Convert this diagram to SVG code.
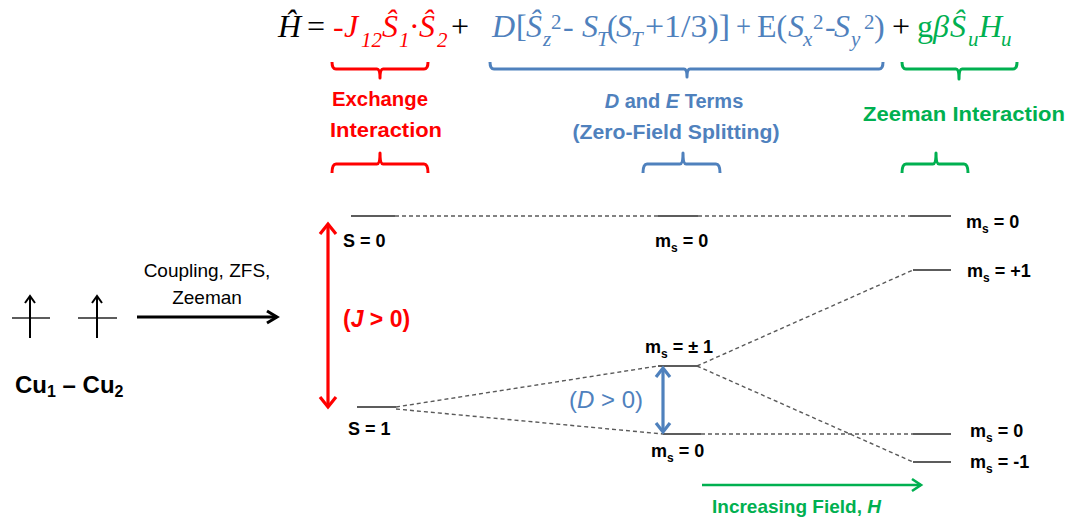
<svg xmlns="http://www.w3.org/2000/svg" width="1068" height="521" viewBox="0 0 1068 521">
<style>
.eq{font-family:"Liberation Serif","Times New Roman",serif;font-size:32px}
.it{font-style:italic}
.sub{font-size:21px}
.red{fill:#ff0000}
.blue{fill:#4f81bd}
.green{fill:#00b050}
.blk{fill:#000}
.lbl{font-family:"Liberation Sans",Arial,sans-serif;font-weight:bold;font-size:18px;fill:#000}
.head{font-family:"Liberation Sans",Arial,sans-serif;font-weight:bold;font-size:20px;text-anchor:middle}
.brace{fill:none;stroke-width:3;stroke-linejoin:round}
.lvl{stroke:#262626;stroke-width:1.6}
.dash{stroke:#595959;stroke-width:1.4;stroke-dasharray:4 3;fill:none}
</style>
<defs>
<marker id="hRed" markerUnits="userSpaceOnUse" markerWidth="24" markerHeight="24" viewBox="-14 -12 16 24" refX="0" refY="0" orient="auto-start-reverse"><path d="M-10,-8 L0,0 L-10,8" fill="none" stroke="#ff0000" stroke-width="3.2"/></marker>
<marker id="hBlue" markerUnits="userSpaceOnUse" markerWidth="24" markerHeight="24" viewBox="-14 -12 16 24" refX="0" refY="0" orient="auto-start-reverse"><path d="M-9,-7 L0,0 L-9,7" fill="none" stroke="#4f81bd" stroke-width="3.2"/></marker>
<marker id="hGreen" markerUnits="userSpaceOnUse" markerWidth="24" markerHeight="24" viewBox="-14 -12 16 24" refX="0" refY="0" orient="auto"><path d="M-9,-6 L0,0 L-9,6" fill="none" stroke="#00b050" stroke-width="2.6"/></marker>
<marker id="hBlack" markerUnits="userSpaceOnUse" markerWidth="24" markerHeight="24" viewBox="-14 -12 16 24" refX="0" refY="0" orient="auto"><path d="M-10,-6 L0,0 L-10,6" fill="none" stroke="#000" stroke-width="3"/></marker>
<marker id="hSpin" markerUnits="userSpaceOnUse" markerWidth="20" markerHeight="20" viewBox="-10 -10 12 20" refX="0" refY="0" orient="auto"><path d="M-7,-5 L0,0 L-7,5" fill="none" stroke="#000" stroke-width="2"/></marker>
</defs>

<g id="equation">
<text class="eq blk it" x="278" y="37">Ĥ</text>
<text class="eq blk" x="307" y="37">=</text>
<text class="eq red" x="333" y="37">-</text>
<text class="eq red it" x="344" y="37">J</text>
<text class="eq red it sub" x="361" y="47">12</text>
<text class="eq red it" x="382" y="37">Ŝ</text>
<text class="eq red it sub" x="399" y="47">1</text>
<text class="eq red" x="409" y="37">·</text>
<text class="eq red it" x="419" y="37">Ŝ</text>
<text class="eq red it sub" x="437" y="47">2</text>
<text class="eq blk" x="451" y="37">+</text>
<text class="eq blue it" x="492" y="37">D</text>
<text class="eq blue" x="516" y="37">[</text>
<text class="eq blue it" x="526" y="37">Ŝ</text>
<text class="eq blue it sub" x="543" y="46">z</text>
<text class="eq blue sub" x="551" y="29">2</text>
<text class="eq blue" x="563" y="37">-</text>
<text class="eq blue it" x="582" y="37">S</text>
<text class="eq blue it sub" x="597" y="46">T</text>
<text class="eq blue" x="607" y="37">(</text>
<text class="eq blue it" x="616" y="37">S</text>
<text class="eq blue it sub" x="631" y="46">T</text>
<text class="eq blue" x="645" y="37" textLength="85" lengthAdjust="spacingAndGlyphs">+1/3)]</text>
<text class="eq blue" x="736" y="37" textLength="15" lengthAdjust="spacingAndGlyphs">+</text>
<text class="eq blue" x="757" y="37">E(</text>
<text class="eq blue it" x="788" y="37">S</text>
<text class="eq blue it sub" x="803" y="46">x</text>
<text class="eq blue sub" x="813" y="29">2</text>
<text class="eq blue" x="825" y="37">-</text>
<text class="eq blue it" x="834" y="37">S</text>
<text class="eq blue it sub" x="851" y="46">y</text>
<text class="eq blue sub" x="864" y="29">2</text>
<text class="eq blue" x="874" y="37">)</text>
<text class="eq blk" x="892" y="37">+</text>
<text class="eq green" x="917" y="37">g</text>
<text class="eq green it" x="933" y="37">β</text>
<text class="eq green it" x="950" y="37">Ŝ</text>
<text class="eq green it sub" x="968" y="46">u</text>
<text class="eq green it" x="979" y="37">H</text>
<text class="eq green it sub" x="1001" y="46">u</text>
</g>

<g id="braces">
<path class="brace" stroke="#ff0000" d="M332,62 Q332,69 336,69 L377,69 Q380,69 380,78 Q380,69 383,69 L424,69 Q428,69 428,62"/>
<path class="brace" stroke="#4f81bd" d="M490,62 Q490,69 494,69 L684,69 Q687,69 687,77 Q687,69 690,69 L879,69 Q883,69 883,62"/>
<path class="brace" stroke="#00b050" d="M902,62 Q902,69 906,69 L956,69 Q959,69 959,79 Q959,69 962,69 L1013,69 Q1017,69 1017,62"/>
<path class="brace" stroke="#ff0000" d="M332,173 Q332,164 336,164 L377,164 Q380,164 380,153 Q380,164 383,164 L424,164 Q428,164 428,173"/>
<path class="brace" stroke="#4f81bd" d="M643,173 Q643,164 647,164 L680,164 Q683,164 683,153 Q683,164 686,164 L716,164 Q720,164 720,173"/>
<path class="brace" stroke="#00b050" d="M902,173 Q902,164 906,164 L933,164 Q936,164 936,153 Q936,164 939,164 L964,164 Q968,164 968,173"/>
</g>

<g id="term-labels">
<text class="head red" x="380" y="106" textLength="96" lengthAdjust="spacingAndGlyphs">Exchange</text>
<text class="head red" x="386" y="137" textLength="112" lengthAdjust="spacingAndGlyphs">Interaction</text>
<text class="head blue" x="674" y="108"><tspan font-style="italic">D</tspan> and <tspan font-style="italic">E</tspan> Terms</text>
<text class="head blue" x="676" y="139" textLength="207" lengthAdjust="spacingAndGlyphs">(Zero-Field Splitting)</text>
<text class="head green" x="964" y="121" textLength="202" lengthAdjust="spacingAndGlyphs">Zeeman Interaction</text>
</g>

<g id="spins">
<line class="lvl" x1="12" y1="318" x2="50" y2="318"/>
<line class="lvl" x1="78" y1="318" x2="117" y2="318"/>
<line x1="30" y1="338" x2="30" y2="296" stroke="#000" stroke-width="2" marker-end="url(#hSpin)"/>
<line x1="97" y1="338" x2="97" y2="296" stroke="#000" stroke-width="2" marker-end="url(#hSpin)"/>
<text class="lbl" x="15" y="393" style="font-size:24px">Cu<tspan style="font-size:16px" dy="4">1</tspan><tspan dy="-4"> – Cu</tspan><tspan style="font-size:16px" dy="4">2</tspan></text>
</g>

<g id="coupling-label">
<text x="207" y="277" font-family="Liberation Sans, Arial, sans-serif" font-size="19" text-anchor="middle">Coupling, ZFS,</text>
<text x="207" y="304" font-family="Liberation Sans, Arial, sans-serif" font-size="19" text-anchor="middle">Zeeman</text>
</g>

<g id="levels">
<line class="lvl" x1="351" y1="216" x2="395" y2="216"/>
<line class="lvl" x1="658" y1="216" x2="698" y2="216"/>
<line class="lvl" x1="910" y1="216" x2="951" y2="216"/>
<line class="lvl" x1="913" y1="270" x2="951" y2="270"/>
<line class="lvl" x1="357" y1="407" x2="396" y2="407"/>
<line class="lvl" x1="658" y1="366" x2="697" y2="366"/>
<line class="lvl" x1="663" y1="434" x2="701" y2="434"/>
<line class="lvl" x1="913" y1="434" x2="951" y2="434"/>
<line class="lvl" x1="913" y1="462" x2="951" y2="462"/>
</g>

<g id="level-labels">
<text class="lbl" x="343" y="247">S = 0</text>
<text class="lbl" x="655" y="247">m<tspan font-size="12" dy="5">s</tspan><tspan dy="-5"> = 0</tspan></text>
<text class="lbl" x="966" y="228">m<tspan font-size="12" dy="5">s</tspan><tspan dy="-5"> = 0</tspan></text>
<text class="lbl" x="967" y="277">m<tspan font-size="12" dy="5">s</tspan><tspan dy="-5"> = +1</tspan></text>
<text class="lbl" x="348" y="435">S = 1</text>
<text class="lbl" x="645" y="353">m<tspan font-size="12" dy="5">s</tspan><tspan dy="-5"> = ± 1</tspan></text>
<text class="lbl" x="651" y="457">m<tspan font-size="12" dy="5">s</tspan><tspan dy="-5"> = 0</tspan></text>
<text class="lbl" x="970" y="437">m<tspan font-size="12" dy="5">s</tspan><tspan dy="-5"> = 0</tspan></text>
<text class="lbl" x="970" y="468">m<tspan font-size="12" dy="5">s</tspan><tspan dy="-5"> = -1</tspan></text>
</g>

<g id="connectors">
<line class="dash" x1="395" y1="216" x2="658" y2="216"/>
<line class="dash" x1="698" y1="216" x2="910" y2="216"/>
<line class="dash" x1="396" y1="407" x2="658" y2="366"/>
<line class="dash" x1="396" y1="409" x2="663" y2="434"/>
<line class="dash" x1="697" y1="366" x2="913" y2="270"/>
<line class="dash" x1="697" y1="366" x2="913" y2="462"/>
<line class="dash" x1="701" y1="434" x2="913" y2="434"/>
<line x1="137" y1="317" x2="277" y2="317" stroke="#000" stroke-width="3" marker-end="url(#hBlack)"/>
<line x1="328" y1="224" x2="328" y2="407" stroke="#ff0000" stroke-width="3.2" marker-start="url(#hRed)" marker-end="url(#hRed)"/>
<line x1="663" y1="368" x2="663" y2="432" stroke="#4f81bd" stroke-width="3.2" marker-start="url(#hBlue)" marker-end="url(#hBlue)"/>
<line x1="702" y1="485" x2="921" y2="485" stroke="#00b050" stroke-width="2.6" marker-end="url(#hGreen)"/>
</g>

<g id="arrow-labels">
<text x="343" y="327" font-family="Liberation Sans, Arial, sans-serif" font-weight="bold" font-size="23" fill="#ff0000">(<tspan font-style="italic">J</tspan> &gt; 0)</text>
<text x="569" y="408" font-family="Liberation Sans, Arial, sans-serif" font-size="24" fill="#4f81bd">(<tspan font-style="italic">D</tspan> &gt; 0)</text>
<text x="712" y="513" font-family="Liberation Sans, Arial, sans-serif" font-weight="bold" font-size="19" fill="#00b050">Increasing Field, <tspan font-style="italic">H</tspan></text>
</g>
</svg>
